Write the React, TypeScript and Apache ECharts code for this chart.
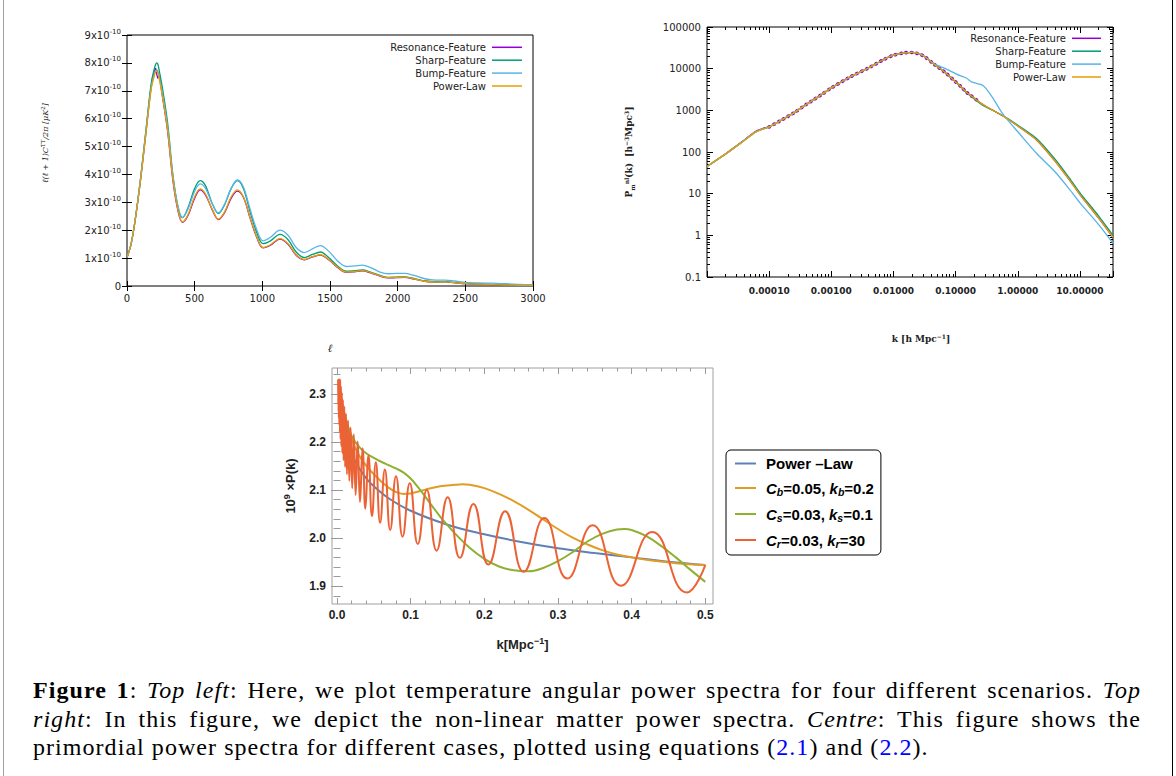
import React, { useEffect, useRef } from 'react';
import * as echarts from 'echarts';

// ---------------- Top left: temperature angular power spectra (units of 1e-10) ----------------
const ELL = [2, 30, 60, 100, 140, 180, 205, 212, 220, 228, 235, 260, 300, 340, 380, 410, 450, 500, 540, 580, 630, 675, 720, 770, 815, 860, 910, 960, 1005, 1060, 1130, 1190, 1250, 1310, 1370, 1430, 1490, 1560, 1620, 1680, 1740, 1800, 1870, 1930, 1990, 2050, 2120, 2200, 2280, 2350, 2420, 2500, 2600, 2700, 2800, 2900, 3000];
const TT_RESONANCE = [1.05, 1.5, 2.35, 3.8, 5.5, 7.2, 7.75, 7.8, 7.6, 7.45, 7.55, 6.85, 5.55, 3.75, 2.62, 2.28, 2.52, 3.15, 3.45, 3.27, 2.73, 2.38, 2.62, 3.15, 3.4, 3.18, 2.43, 1.73, 1.37, 1.46, 1.68, 1.5, 1.1, 0.94, 1.04, 1.11, 0.94, 0.65, 0.49, 0.51, 0.54, 0.47, 0.35, 0.29, 0.3, 0.31, 0.25, 0.17, 0.14, 0.15, 0.12, 0.085, 0.065, 0.05, 0.035, 0.025, 0.02];
const TT_SHARP = [1.05, 1.5, 2.35, 3.85, 5.6, 7.3, 7.85, 7.95, 8.0, 7.95, 7.8, 7.15, 5.85, 3.95, 2.75, 2.45, 2.8, 3.5, 3.78, 3.6, 2.95, 2.6, 2.9, 3.5, 3.78, 3.5, 2.65, 1.9, 1.52, 1.62, 1.85, 1.66, 1.22, 1.02, 1.13, 1.22, 1.02, 0.7, 0.53, 0.55, 0.58, 0.5, 0.38, 0.31, 0.32, 0.33, 0.27, 0.18, 0.15, 0.155, 0.125, 0.09, 0.07, 0.055, 0.04, 0.03, 0.022];
const TT_BUMP = [1.05, 1.5, 2.35, 3.85, 5.55, 7.15, 7.65, 7.72, 7.75, 7.7, 7.55, 6.95, 5.7, 3.9, 2.8, 2.45, 2.75, 3.4, 3.66, 3.5, 2.95, 2.62, 2.92, 3.5, 3.8, 3.55, 2.75, 2.0, 1.62, 1.75, 2.0, 1.82, 1.38, 1.2, 1.33, 1.45, 1.25, 0.88, 0.7, 0.72, 0.75, 0.66, 0.5, 0.44, 0.45, 0.45, 0.38, 0.26, 0.21, 0.21, 0.18, 0.13, 0.11, 0.1, 0.08, 0.06, 0.04];
const TT_POWERLAW = [1.05, 1.5, 2.35, 3.8, 5.5, 7.1, 7.6, 7.68, 7.7, 7.65, 7.5, 6.85, 5.6, 3.8, 2.65, 2.3, 2.55, 3.2, 3.48, 3.3, 2.75, 2.4, 2.65, 3.2, 3.45, 3.2, 2.45, 1.75, 1.38, 1.48, 1.7, 1.52, 1.12, 0.95, 1.05, 1.12, 0.95, 0.66, 0.5, 0.52, 0.55, 0.48, 0.36, 0.3, 0.31, 0.32, 0.26, 0.17, 0.14, 0.15, 0.12, 0.085, 0.065, 0.05, 0.035, 0.025, 0.02];

// ---------------- Top right: non-linear matter power spectra ----------------
const K_MATTER = [1e-5, 2e-5, 3.5e-5, 6e-5, 8e-5, 1e-4, 1.5e-4, 2.5e-4, 4e-4, 7e-4, 1e-3, 2e-3, 4e-3, 7e-3, 0.01, 0.015, 0.02, 0.03, 0.045, 0.07, 0.1, 0.12, 0.15, 0.18, 0.22, 0.26, 0.3, 0.4, 0.55, 0.7, 1, 2, 4, 7, 10, 20, 34];
const PM_RESONANCE = [45, 91, 168, 310, 370, 400, 560, 870, 1400, 2400, 3450, 6300, 10500, 16600, 21000, 24000, 24500, 20400, 12800, 7800, 4800, 3800, 2700, 2200, 1750, 1450, 1270, 1000, 760, 610, 420, 195, 60, 20, 9.5, 2.6, 0.9];
const PM_SHARP = [45, 90, 165, 300, 360, 400, 560, 870, 1400, 2400, 3450, 6300, 10500, 16600, 21000, 24000, 24500, 20400, 12800, 7800, 4800, 3750, 2650, 2120, 1680, 1390, 1220, 990, 770, 630, 440, 210, 66, 22, 10.5, 2.9, 1.0];
const PM_BUMP = [45, 90, 165, 300, 360, 400, 560, 870, 1400, 2400, 3450, 6300, 10500, 16600, 21000, 24000, 24500, 20600, 13000, 9900, 7600, 6700, 5900, 4800, 4400, 4150, 3500, 1930, 890, 565, 306, 93, 33, 12, 6, 1.8, 0.64];
const PM_POWERLAW = [45, 90, 165, 300, 360, 400, 560, 870, 1400, 2400, 3450, 6300, 10500, 16600, 21000, 24000, 24500, 20400, 12800, 7800, 4800, 3800, 2700, 2200, 1750, 1450, 1270, 1000, 760, 610, 420, 195, 60, 20, 9.5, 2.6, 0.9];
// range over which the resonance wiggles show (indices into K_MATTER)
const RES_WIGGLE_FROM = 5;
const RES_WIGGLE_TO = 25;

// ---------------- Centre: primordial power spectra ----------------
const K_PL = [0.003, 0.005, 0.01, 0.02, 0.03, 0.04, 0.05, 0.07, 0.1, 0.15, 0.2, 0.25, 0.3, 0.35, 0.4, 0.45, 0.5];
const P_PL = [2.325, 2.284, 2.23, 2.176, 2.146, 2.124, 2.108, 2.083, 2.057, 2.028, 2.008, 1.992, 1.979, 1.969, 1.96, 1.951, 1.944];
const K_B = [0.003, 0.005, 0.01, 0.02, 0.03, 0.04, 0.05, 0.06, 0.07, 0.08, 0.09, 0.1, 0.12, 0.14, 0.16, 0.17, 0.18, 0.2, 0.22, 0.24, 0.26, 0.28, 0.3, 0.32, 0.34, 0.36, 0.38, 0.4, 0.43, 0.46, 0.5];
const P_B = [2.33, 2.3, 2.255, 2.205, 2.172, 2.15, 2.133, 2.118, 2.105, 2.096, 2.092, 2.093, 2.101, 2.108, 2.111, 2.112, 2.111, 2.104, 2.092, 2.077, 2.059, 2.039, 2.019, 2.001, 1.987, 1.975, 1.966, 1.96, 1.953, 1.948, 1.944];
const K_S = [0.003, 0.005, 0.01, 0.02, 0.03, 0.04, 0.05, 0.06, 0.07, 0.08, 0.09, 0.1, 0.11, 0.12, 0.13, 0.14, 0.15, 0.16, 0.18, 0.2, 0.22, 0.24, 0.26, 0.28, 0.3, 0.32, 0.34, 0.36, 0.38, 0.39, 0.4, 0.42, 0.44, 0.46, 0.48, 0.5];
const P_S = [2.33, 2.3, 2.26, 2.212, 2.19, 2.176, 2.167, 2.159, 2.152, 2.145, 2.137, 2.124, 2.106, 2.086, 2.065, 2.045, 2.027, 2.01, 1.98, 1.957, 1.941, 1.933, 1.931, 1.938, 1.952, 1.971, 1.993, 2.009, 2.018, 2.019, 2.017, 2.004, 1.984, 1.96, 1.934, 1.909];
const K_R = [0.0015, 0.0017, 0.0019, 0.0021, 0.0023, 0.0025, 0.0028, 0.0031, 0.0035, 0.0039, 0.0043, 0.0048, 0.0053, 0.0059, 0.0065, 0.0072, 0.008, 0.0089, 0.0099, 0.011, 0.0122, 0.0135, 0.015, 0.0167, 0.0185, 0.0206, 0.0228, 0.0253, 0.0281, 0.0312, 0.0347, 0.0385, 0.0427, 0.0475, 0.0527, 0.0585, 0.065, 0.0722, 0.0801, 0.089, 0.0988, 0.1097, 0.1218, 0.1352, 0.1502, 0.1668, 0.1852, 0.2056, 0.2283, 0.2535, 0.2815, 0.3126, 0.3471, 0.3854, 0.428, 0.475, 0.5];
const P_R = [2.33, 2.278, 2.33, 2.264, 2.33, 2.249, 2.33, 2.235, 2.33, 2.22, 2.33, 2.206, 2.317, 2.191, 2.303, 2.177, 2.288, 2.162, 2.274, 2.148, 2.259, 2.133, 2.245, 2.119, 2.23, 2.104, 2.216, 2.09, 2.201, 2.075, 2.187, 2.061, 2.172, 2.046, 2.158, 2.032, 2.143, 2.017, 2.129, 2.003, 2.114, 1.988, 2.1, 1.974, 2.085, 1.959, 2.071, 1.945, 2.056, 1.93, 2.042, 1.916, 2.027, 1.901, 2.013, 1.887, 1.944];
const C_X_MAJOR = [0, 0.1, 0.2, 0.3, 0.4, 0.5];
const C_X_MINOR = [0.02, 0.04, 0.06, 0.08, 0.12, 0.14, 0.16, 0.18, 0.22, 0.24, 0.26, 0.28, 0.32, 0.34, 0.36, 0.38, 0.42, 0.44, 0.46, 0.48];
const C_Y_MAJOR = [1.9, 2.0, 2.1, 2.2, 2.3];
const C_Y_MINOR = [1.88, 1.92, 1.94, 1.96, 1.98, 2.02, 2.04, 2.06, 2.08, 2.12, 2.14, 2.16, 2.18, 2.22, 2.24, 2.26, 2.28, 2.32, 2.34];

const GNU_NAMES = ['Resonance-Feature', 'Sharp-Feature', 'Bump-Feature', 'Power-Law'];
const GNU_COLORS = ['#9400d3', '#009e73', '#56b4e9', '#e69f00'];
const C_NAMES = ['Power –Law', 'Cb=0.05, kb=0.2', 'Cs=0.03, ks=0.1', 'Cr=0.03, kr=30'];
const C_COLORS = ['#5e81b5', '#e19c24', '#8fb032', '#eb6235'];

const F_GNU = 'DejaVu Sans';
const F_SERIF = 'DejaVu Serif';
const F_MMA = 'Liberation Sans';

const zip = (xs: number[], ys: number[]) => xs.map((x, i) => [x, ys[i]]);

function gnuLegend(textRight: number, lineX1: number, lineX2: number, y0: number, dy: number) {
  const els: any[] = [];
  GNU_NAMES.forEach((n, i) => {
    const y = y0 + dy * i;
    els.push({
      type: 'text',
      style: { text: n, x: textRight, y, textAlign: 'right', textVerticalAlign: 'middle', font: `10px "${F_GNU}"`, fill: '#222' },
    });
    els.push({
      type: 'line',
      shape: { x1: lineX1, y1: y, x2: lineX2, y2: y },
      style: { stroke: GNU_COLORS[i], lineWidth: 1.5 },
    });
  });
  return els;
}

function buildOption(): any {
  const tickBlack = { color: '#000', width: 1 };
  const tickGray = { color: '#9a9a9a', width: 1 };

  const mmaLabel = { fontFamily: F_MMA, fontWeight: 'bold', fontSize: 12, color: '#222' };

  const cX = (position: string, vals: number[], len: number, label: boolean, extra: any = {}) => ({
    gridIndex: 2, type: 'value', min: -0.0068, max: 0.5105, position,
    axisLine: { show: false },
    axisTick: { show: true, inside: true, length: len, customValues: vals, lineStyle: tickGray },
    axisLabel: label
      ? { show: true, customValues: vals, formatter: (v: number) => v.toFixed(1), margin: 5, ...mmaLabel }
      : { show: false },
    splitLine: { show: false },
    ...extra,
  });
  const cY = (position: string, vals: number[], len: number, label: boolean, extra: any = {}) => ({
    gridIndex: 2, type: 'value', min: 1.863, max: 2.354, position,
    axisLine: { show: false },
    axisTick: { show: true, inside: true, length: len, customValues: vals, lineStyle: tickGray },
    axisLabel: label
      ? { show: true, customValues: vals, formatter: (v: number) => v.toFixed(1), margin: 6, ...mmaLabel }
      : { show: false },
    splitLine: { show: false },
    ...extra,
  });

  const tlY = (position: string, label: boolean, extra: any = {}) => ({
    gridIndex: 0, type: 'value', min: 0, max: 9, interval: 1, position,
    axisLine: { show: false },
    axisTick: { show: true, inside: true, length: 5, lineStyle: tickBlack },
    axisLabel: label
      ? {
          show: true, margin: 6,
          formatter: (v: number) => (v === 0 ? '{n|0}' : `{n|${v}x10}{s|-10}`),
          rich: {
            n: { fontFamily: F_GNU, fontSize: 10, color: '#222', lineHeight: 14 },
            s: { fontFamily: F_GNU, fontSize: 7, color: '#222', lineHeight: 7, verticalAlign: 'top' },
          },
        }
      : { show: false },
    splitLine: { show: false },
    ...extra,
  });
  const tlX = (position: string, label: boolean, extra: any = {}) => ({
    gridIndex: 0, type: 'value', min: 0, max: 3000, interval: 500, position,
    axisLine: { show: false },
    axisTick: { show: true, inside: true, length: 5, lineStyle: tickBlack },
    axisLabel: label
      ? { show: true, margin: 7, fontFamily: F_GNU, fontSize: 10, color: '#222', formatter: (v: number) => String(v) }
      : { show: false },
    splitLine: { show: false },
    ...extra,
  });

  const trX = (position: string, label: boolean, extra: any = {}) => ({
    gridIndex: 1, type: 'log', logBase: 10, min: 1e-5, max: 34, position,
    axisLine: { show: false },
    axisTick: { show: true, inside: true, length: 6, lineStyle: tickBlack },
    minorTick: { show: true, splitNumber: 9, length: 3, lineStyle: tickBlack },
    axisLabel: label
      ? {
          show: true, margin: 9, showMinLabel: false, showMaxLabel: false,
          formatter: (v: number) => v.toFixed(5),
          fontFamily: F_GNU, fontSize: 9, fontWeight: 'bold', color: '#222',
        }
      : { show: false },
    splitLine: { show: false },
    minorSplitLine: { show: false },
    ...extra,
  });
  const trY = (position: string, label: boolean, extra: any = {}) => ({
    gridIndex: 1, type: 'log', logBase: 10, min: 0.1, max: 100000, position,
    axisLine: { show: false },
    axisTick: { show: true, inside: true, length: 6, lineStyle: tickBlack },
    minorTick: { show: true, splitNumber: 9, length: 3, lineStyle: tickBlack },
    axisLabel: label
      ? {
          show: true, margin: 6,
          formatter: (v: number) => (v >= 1 ? String(Math.round(v)) : String(+v.toPrecision(3))),
          fontFamily: F_GNU, fontSize: 10, color: '#222',
        }
      : { show: false },
    splitLine: { show: false },
    minorSplitLine: { show: false },
    ...extra,
  });

  const gnuLine = (name: string, color: string, data: number[][], xi: number, yi: number, extra: any = {}) => ({
    type: 'line', name, xAxisIndex: xi, yAxisIndex: yi, data, symbol: 'none', smooth: 0.35,
    lineStyle: { color, width: 1.3 }, itemStyle: { color }, silent: true, ...extra,
  });

  const richSub = {
    t: { fontFamily: F_MMA, fontWeight: 'bold', fontSize: 15, color: '#000', lineHeight: 18 },
    i: { fontFamily: F_MMA, fontWeight: 'bold', fontStyle: 'italic', fontSize: 15, color: '#000', lineHeight: 18 },
    s: { fontFamily: F_MMA, fontWeight: 'bold', fontStyle: 'italic', fontSize: 10.5, color: '#000', lineHeight: 10, verticalAlign: 'bottom' },
  };
  const legendFmt: Record<string, string> = {
    'Power –Law': '{t|Power –Law}',
    'Cb=0.05, kb=0.2': '{i|C}{s|b}{t|=0.05, }{i|k}{s|b}{t|=0.2}',
    'Cs=0.03, ks=0.1': '{i|C}{s|s}{t|=0.03, }{i|k}{s|s}{t|=0.1}',
    'Cr=0.03, kr=30': '{i|C}{s|r}{t|=0.03, }{i|k}{s|r}{t|=30}',
  };

  return {
    animation: false,
    backgroundColor: '#fff',
    grid: [
      { left: 127, top: 35, width: 406, height: 251, show: true, borderColor: '#000', borderWidth: 1, backgroundColor: 'transparent' },
      { left: 707, top: 27, width: 406, height: 250, show: true, borderColor: '#000', borderWidth: 1, backgroundColor: 'transparent' },
      { left: 332, top: 368, width: 381, height: 236, show: true, borderColor: '#a0a0a0', borderWidth: 1, backgroundColor: 'transparent' },
    ],
    xAxis: [
      tlX('bottom', true, {
        name: 'ℓ', nameLocation: 'middle', nameGap: 57,
        nameTextStyle: { fontFamily: F_SERIF, fontStyle: 'italic', fontSize: 11, color: '#222' },
      }),
      tlX('top', false),
      trX('bottom', true, {
        name: '{b|k [h Mpc}{sup|−1}{b|]}', nameLocation: 'middle', nameGap: 56,
        nameTextStyle: {
          padding: [0, 0, 0, 22],
          rich: {
            b: { fontFamily: F_SERIF, fontWeight: 'bold', fontSize: 9, color: '#222', lineHeight: 12 },
            sup: { fontFamily: F_SERIF, fontWeight: 'bold', fontSize: 6, color: '#222', lineHeight: 6, verticalAlign: 'top' },
          },
        },
      }),
      trX('top', false),
      cX('bottom', C_X_MAJOR, 6, true, {
        name: '{b|k[Mpc}{sup|−1}{b|]}', nameLocation: 'middle', nameGap: 32,
        nameTextStyle: {
          rich: {
            b: { fontFamily: F_MMA, fontWeight: 'bold', fontSize: 13, color: '#222', lineHeight: 16 },
            sup: { fontFamily: F_MMA, fontWeight: 'bold', fontSize: 9, color: '#222', lineHeight: 9, verticalAlign: 'top' },
          },
        },
      }),
      cX('bottom', C_X_MINOR, 3.5, false),
      cX('top', C_X_MAJOR, 6, false),
      cX('top', C_X_MINOR, 3.5, false),
    ],
    yAxis: [
      tlY('left', true, {
        name: '{i|ℓ(ℓ + 1)C}{sup|TT}{i|/2π [μK}{sup|2}{i|]}', nameLocation: 'middle', nameGap: 76, nameRotate: 90,
        nameTextStyle: {
          padding: [0, 0, 0, 35],
          rich: {
            i: { fontFamily: F_SERIF, fontStyle: 'italic', fontSize: 8, color: '#222', lineHeight: 11 },
            sup: { fontFamily: F_SERIF, fontSize: 5.5, color: '#222', lineHeight: 6, verticalAlign: 'top' },
          },
        },
      }),
      tlY('right', false),
      trY('left', true, {
        name: '{b|P}{sub|m}{sup|nl}{b|(k)  [h}{sup|−3}{b|Mpc}{sup|3}{b|]}', nameLocation: 'middle', nameGap: 72, nameRotate: 90,
        nameTextStyle: {
          rich: {
            b: { fontFamily: F_SERIF, fontWeight: 'bold', fontSize: 9, color: '#222', lineHeight: 12 },
            sup: { fontFamily: F_SERIF, fontWeight: 'bold', fontSize: 6, color: '#222', lineHeight: 6, verticalAlign: 'top' },
            sub: { fontFamily: F_SERIF, fontWeight: 'bold', fontSize: 6, color: '#222', lineHeight: 6, verticalAlign: 'bottom' },
          },
        },
      }),
      trY('right', false),
      cY('left', C_Y_MAJOR, 6, true, {
        name: '{b|10}{sup|9}{b| ×P(k)}', nameLocation: 'middle', nameGap: 34, nameRotate: 90,
        nameTextStyle: {
          rich: {
            b: { fontFamily: F_MMA, fontWeight: 'bold', fontSize: 13, color: '#222', lineHeight: 16 },
            sup: { fontFamily: F_MMA, fontWeight: 'bold', fontSize: 9, color: '#222', lineHeight: 9, verticalAlign: 'top' },
          },
        },
      }),
      cY('left', C_Y_MINOR, 3.5, false),
      cY('right', C_Y_MAJOR, 6, false),
      cY('right', C_Y_MINOR, 3.5, false),
    ],
    legend: {
      data: C_NAMES.map((name) => ({ name, icon: 'rect' })),
      orient: 'vertical',
      left: 726,
      top: 450,
      padding: [6, 7, 6, 9],
      itemWidth: 21,
      itemHeight: 2,
      itemGap: 9.5,
      backgroundColor: '#fff',
      borderColor: '#000',
      borderWidth: 1,
      borderRadius: 5,
      selectedMode: false,
      formatter: (n: string) => legendFmt[n] || n,
      textStyle: { padding: [0, 0, 0, 5], rich: richSub },
    },
    series: [
      // top left
      gnuLine(GNU_NAMES[0], GNU_COLORS[0], zip(ELL, TT_RESONANCE), 0, 0),
      gnuLine(GNU_NAMES[1], GNU_COLORS[1], zip(ELL, TT_SHARP), 0, 0),
      gnuLine(GNU_NAMES[2], GNU_COLORS[2], zip(ELL, TT_BUMP), 0, 0),
      gnuLine(GNU_NAMES[3], GNU_COLORS[3], zip(ELL, TT_POWERLAW), 0, 0),
      // top right
      gnuLine(GNU_NAMES[0], GNU_COLORS[0], zip(K_MATTER, PM_RESONANCE), 2, 2, { smooth: 0.25 }),
      gnuLine(GNU_NAMES[0], GNU_COLORS[0],
        zip(K_MATTER.slice(RES_WIGGLE_FROM, RES_WIGGLE_TO), PM_RESONANCE.slice(RES_WIGGLE_FROM, RES_WIGGLE_TO)), 2, 2,
        { smooth: 0.25, lineStyle: { color: GNU_COLORS[0], width: 3.6, type: [0.4, 5], cap: 'round' } }),
      gnuLine(GNU_NAMES[1], GNU_COLORS[1], zip(K_MATTER, PM_SHARP), 2, 2, { smooth: 0.25 }),
      gnuLine(GNU_NAMES[2], GNU_COLORS[2], zip(K_MATTER, PM_BUMP), 2, 2, { smooth: 0.25 }),
      gnuLine(GNU_NAMES[3], GNU_COLORS[3], zip(K_MATTER, PM_POWERLAW), 2, 2, { smooth: 0.25 }),
      // centre
      { type: 'line', name: C_NAMES[0], xAxisIndex: 4, yAxisIndex: 4, data: zip(K_PL, P_PL), symbol: 'none', smooth: 0.4, lineStyle: { color: C_COLORS[0], width: 2 }, itemStyle: { color: C_COLORS[0] } },
      { type: 'line', name: C_NAMES[1], xAxisIndex: 4, yAxisIndex: 4, data: zip(K_B, P_B), symbol: 'none', smooth: 0.4, lineStyle: { color: C_COLORS[1], width: 2 }, itemStyle: { color: C_COLORS[1] } },
      { type: 'line', name: C_NAMES[2], xAxisIndex: 4, yAxisIndex: 4, data: zip(K_S, P_S), symbol: 'none', smooth: 0.4, lineStyle: { color: C_COLORS[2], width: 2 }, itemStyle: { color: C_COLORS[2] } },
      { type: 'line', name: C_NAMES[3], xAxisIndex: 4, yAxisIndex: 4, data: zip(K_R, P_R), symbol: 'none', smooth: 0.5, lineStyle: { color: C_COLORS[3], width: 2 }, itemStyle: { color: C_COLORS[3] } },
    ],
    graphic: [
      { type: 'line', shape: { x1: 3.5, y1: 0, x2: 3.5, y2: 776 }, style: { stroke: '#a0a0a0', lineWidth: 1 } },
      { type: 'line', shape: { x1: 1172.5, y1: 0, x2: 1172.5, y2: 776 }, style: { stroke: '#000', lineWidth: 1 } },
      ...gnuLegend(486, 492, 522, 47.3, 12.9),
      ...gnuLegend(1066, 1072, 1101, 38.3, 12.9),
    ],
  };
}

export default function App() {
  const ref = useRef<HTMLDivElement>(null);
  useEffect(() => {
    const chart = echarts.init(ref.current as HTMLDivElement, null, { renderer: 'svg' });
    chart.setOption(buildOption());
    return () => chart.dispose();
  }, []);

  const lineStyle: React.CSSProperties = { textAlign: 'justify', textAlignLast: 'justify', height: 28.5, whiteSpace: 'nowrap' };
  const blue: React.CSSProperties = { color: '#0000ff' };
  return (
    <div style={{ position: 'absolute', left: 0, top: 0, width: 1176, height: 776, background: '#fff', overflow: 'hidden' }}>
      <div ref={ref} style={{ position: 'absolute', left: 0, top: 0, width: 1176, height: 776 }} />
      <div
        style={{
          position: 'absolute', left: 33, top: 676, width: 1108,
          fontFamily: '"Liberation Serif", serif', fontSize: 24, letterSpacing: '1.05px', lineHeight: '28.5px', color: '#000',
        }}
      >
        <div style={lineStyle}>
          <b>Figure 1</b>: <i>Top left</i>: Here, we plot temperature angular power spectra for four different scenarios. <i>Top</i>
        </div>
        <div style={lineStyle}>
          <i>right</i>: In this figure, we depict the non-linear matter power spectra. <i>Centre</i>: This figure shows the
        </div>
        <div style={{ height: 28.5, whiteSpace: 'nowrap' }}>
          primordial power spectra for different cases, plotted using equations (<span style={blue}>2.1</span>) and (<span style={blue}>2.2</span>).
        </div>
      </div>
    </div>
  );
}
